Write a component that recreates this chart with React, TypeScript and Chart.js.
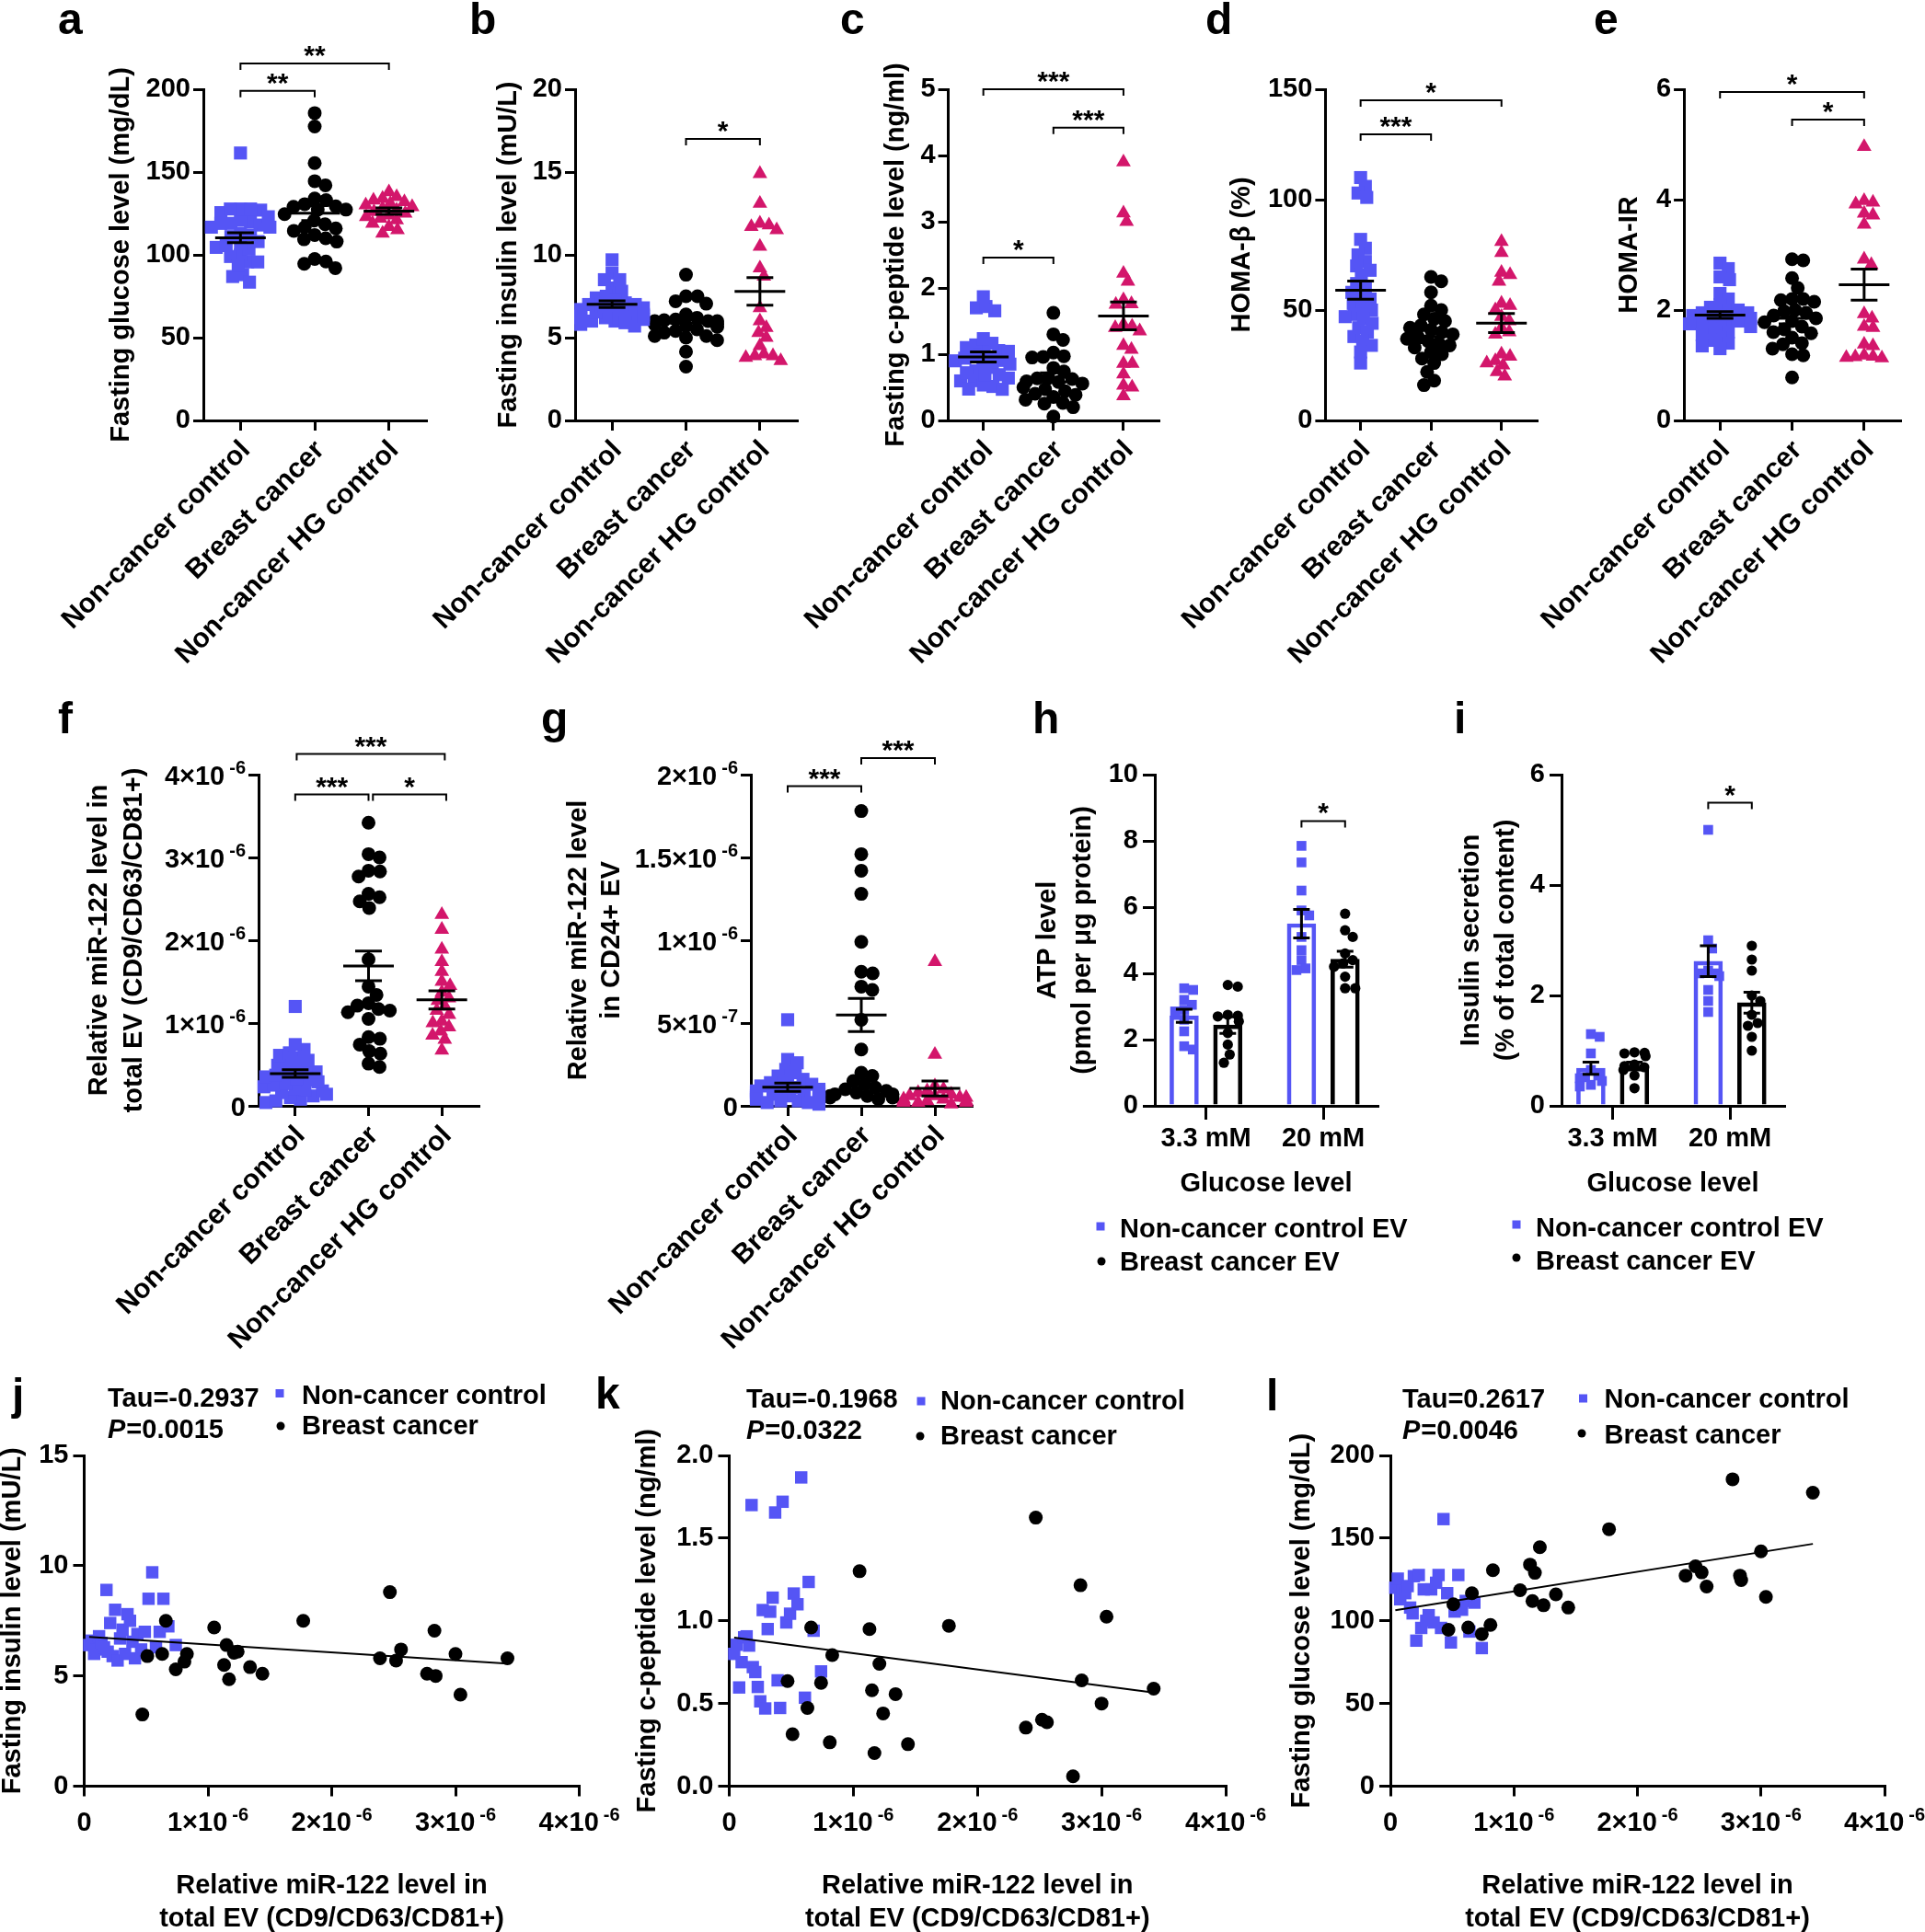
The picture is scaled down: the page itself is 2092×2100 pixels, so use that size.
import React, { useEffect, useRef } from 'react';
import { Chart, registerables } from 'chart.js';

Chart.register(...registerables);

const FONT = '"Liberation Sans", Arial, Helvetica, sans-serif';
const BLUE = '#5555F5';
const PINK = '#D3166B';
const BLACK = '#000000';
const FS = 29;
const CAT_FS = 30;

// ======================= DATA =======================
const groupNames = ['Non-cancer control', 'Breast cancer', 'Non-cancer HG control'];
const glucoseLevels = ['3.3 mM', '20 mM'];

// relative miR-122 level in total EV (CD9/CD63/CD81+), units of 1e-6
const ncTotalEV = [0.04, 0.06, 0.08, 0.10, 0.12, 0.14, 0.16, 0.18, 0.19, 0.21, 0.23, 0.25, 0.27, 0.29, 0.31, 0.33, 0.35, 0.37, 0.39, 0.41, 0.43, 0.46, 0.49, 0.52, 0.55, 0.58, 0.61, 0.64, 0.68, 0.74, 1.20];
const bcTotalEV = [0.47, 0.51, 0.63, 0.66, 0.74, 0.81, 0.83, 1.05, 1.13, 1.15, 1.17, 1.21, 1.24, 1.34, 1.44, 1.77, 2.39, 2.47, 2.52, 2.56, 2.77, 2.83, 2.84, 3.00, 3.04, 3.42];
const hgTotalEV = [2.31, 2.13, 1.89, 1.74, 1.62, 1.50, 1.45, 1.37, 1.30, 1.27, 1.20, 1.15, 1.10, 1.02, 1.00, 0.95, 0.90, 0.85, 0.80, 0.67];

// relative miR-122 level in CD24+ EV, units of 1e-6
const ncCD24EV = [0.52, 0.28, 0.26, 0.22, 0.20, 0.18, 0.16, 0.15, 0.14, 0.13, 0.12, 0.11, 0.10, 0.10, 0.09, 0.09, 0.08, 0.08, 0.07, 0.07, 0.06, 0.06, 0.05, 0.05, 0.04, 0.04, 0.03, 0.03, 0.02, 0.02, 0.01];
const bcCD24EV = [1.78, 1.52, 1.42, 1.28, 0.99, 0.81, 0.80, 0.72, 0.70, 0.52, 0.34, 0.20, 0.18, 0.15, 0.13, 0.11, 0.10, 0.09, 0.08, 0.07, 0.07, 0.06, 0.06, 0.05, 0.05, 0.04];
const hgCD24EV = [0.87, 0.31, 0.12, 0.10, 0.09, 0.08, 0.07, 0.06, 0.06, 0.05, 0.05, 0.04, 0.04, 0.03, 0.03, 0.03, 0.02, 0.02, 0.02, 0.01];

// fasting glucose (mg/dL)
const ncGlucose = [120, 125.5, 113, 118, 116.7, 121, 108, 104.5, 127, 88, 127.7, 95.7, 119, 100, 103.4, 119, 99, 123, 127.7, 95.7, 161.5, 116.7, 86.9, 105.6, 127.7, 106.7, 112, 93.5, 111, 83.5];
const bcGlucose = [94.6, 110, 96, 116.7, 92, 97.5, 130.6, 118.5, 134, 112, 129, 144.5, 109.4, 116, 108, 155.4, 127.3, 133, 129.3, 120.7, 185.6, 127.3, 124.6, 142, 114.5, 177.5];
const hgGlucose = [138, 135, 134, 133, 132, 131, 130, 129, 128, 127, 126, 125, 124, 123, 122, 121, 119, 117, 115, 113];

// fasting insulin (mU/L)
const ncInsulin = [6.4, 6.6, 6.0, 6.2, 6.8, 6.5, 6.3, 8.9, 6.1, 7.4, 5.9, 8.0, 5.7, 6.7, 7.1, 6.0, 7.8, 7.5, 6.55, 5.8, 6.9, 6.2, 7.0, 8.5, 9.7, 6.3, 7.0, 8.5, 7.25, 6.4];
const bcInsulin = [3.25, 5.9, 6.0, 7.5, 5.3, 5.65, 6.0, 7.2, 5.5, 6.4, 4.85, 6.05, 6.1, 5.4, 5.1, 7.5, 5.8, 8.8, 5.7, 6.2, 5.1, 7.05, 5.0, 6.0, 4.15, 5.8];
const hgInsulin = [14.9, 13.1, 11.9, 11.8, 11.7, 11.5, 10.5, 9.2, 8.7, 6.8, 6.0, 5.6, 5.3, 5.0, 4.5, 4.0, 3.9, 3.9, 3.8, 3.6];

// fasting c-peptide (ng/ml)
const ncCpeptide = [0.80, 0.855, 0.597, 0.75, 0.90, 0.906, 0.85, 1.70, 0.72, 0.69, 0.60, 0.513, 1.065, 0.47, 0.95, 1.055, 1.14, 1.655, 0.64, 0.473, 1.72, 0.99, 1.043, 1.165, 1.10, 1.867, 0.535, 1.235, 0.94, 0.694];
const bcCpeptide = [0.636, 0.314, 0.473, 0.96, 0.625, 0.265, 0.793, 1.30, 0.95, 0.58, 0.20, 0.74, 0.44, 0.557, 0.254, 0.97, 0.354, 1.624, 0.402, 0.387, 0.06, 1.215, 0.64, 0.50, 1.025, 0.59];
const hgCpeptide = [3.9, 3.13, 3.0, 2.22, 2.1, 1.82, 1.76, 1.75, 1.45, 1.42, 1.40, 1.35, 1.13, 1.07, 0.86, 0.86, 0.7, 0.53, 0.50, 0.37];

// HOMA-beta (%)
const ncHomaB = [110, 106, 103, 101, 82, 78, 75, 72, 70, 68, 66, 62, 60, 58, 56, 55, 53, 51, 50, 48, 47, 46, 44, 42, 40, 38, 36, 34, 31, 26];
const bcHomaB = [65, 63, 58, 52, 50, 48, 46, 45, 43, 42, 41, 40, 39, 38, 37, 36, 35, 34, 33, 31, 30, 28, 26, 22, 18, 16];
const hgHomaB = [81, 76, 67, 66, 63, 53, 52, 50, 47, 45, 42, 40, 39, 30, 29, 27, 26, 25, 22, 20];

// HOMA-IR
const ncHomaIR = [2.85, 2.75, 2.6, 2.55, 2.3, 2.2, 2.1, 2.05, 2.0, 2.0, 1.95, 1.95, 1.9, 1.9, 1.85, 1.85, 1.8, 1.8, 1.75, 1.75, 1.7, 1.7, 1.65, 1.6, 1.55, 1.5, 1.45, 1.4, 1.35, 1.3];
const bcHomaIR = [2.92, 2.9, 2.58, 2.4, 2.2, 2.2, 2.18, 2.15, 2.0, 1.98, 1.95, 1.9, 1.85, 1.8, 1.78, 1.7, 1.65, 1.6, 1.58, 1.5, 1.4, 1.38, 1.3, 1.2, 1.18, 0.78];
const hgHomaIR = [4.96, 3.98, 3.95, 3.92, 3.75, 3.72, 3.55, 2.92, 2.82, 1.93, 1.85, 1.70, 1.68, 1.38, 1.35, 1.18, 1.16, 1.15, 1.14, 1.13];

// mean and SEM, order: NC, BC, HG
const meanGlucose = [110.3, 125.2, 126.4];
const semGlucose = [3.0, 4.5, 2.0];
const meanInsulin = [7.02, 5.87, 7.79];
const semInsulin = [0.2, 0.22, 0.83];
const meanCpeptide = [0.958, 0.65, 1.577];
const semCpeptide = [0.077, 0.07, 0.21];
const meanHomaB = [59, 38, 44.1];
const semHomaB = [4.1, 2.8, 4.3];
const meanHomaIR = [1.91, 1.85, 2.46];
const semHomaIR = [0.06, 0.1, 0.28];
const meanTotalEV = [0.39, 1.69, 1.28];
const semTotalEV = [0.045, 0.18, 0.11];
const meanCD24EV = [0.112, 0.548, 0.105];
const semCD24EV = [0.025, 0.10, 0.045];

// ATP level (pmol per ug protein), 3.3 mM / 20 mM
const atpCtrlLow = [3.55, 3.5, 3.2, 3.05, 2.9, 2.85, 2.6, 2.25, 1.8, 1.7];
const atpCtrlHigh = [7.85, 7.35, 6.5, 5.9, 5.75, 5.1, 4.7, 4.4, 4.15, 4.1];
const atpBcLow = [3.65, 3.6, 2.75, 2.72, 2.7, 2.55, 2.2, 1.85, 1.55, 1.3];
const atpBcHigh = [5.8, 5.3, 5.1, 4.6, 4.4, 4.3, 4.2, 3.9, 3.55, 3.55];
const atpCtrlMean = [2.72, 5.5];
const atpCtrlSem = [0.2, 0.43];
const atpBcMean = [2.44, 4.43];
const atpBcSem = [0.25, 0.24];

// insulin secretion (% of total content)
const secCtrlLow = [1.3, 1.25, 0.95, 0.65, 0.55, 0.52, 0.5, 0.45, 0.38, 0.35];
const secCtrlHigh = [5.0, 3.0, 2.85, 2.45, 2.4, 2.4, 2.35, 2.1, 1.9, 1.7];
const secBcLow = [0.97, 0.96, 0.95, 0.9, 0.75, 0.72, 0.7, 0.65, 0.55, 0.32];
const secBcHigh = [2.9, 2.65, 2.45, 2.0, 1.9, 1.65, 1.5, 1.45, 1.25, 1.0];
const secCtrlMean = [0.68, 2.62];
const secCtrlSem = [0.11, 0.28];
const secBcMean = [0.72, 1.87];
const secBcSem = [0.07, 0.19];

// linear fits [intercept, slope per 1e-6]
const fitInsulin = [6.78, -0.356];
const fitCpeptide = [0.903, -0.0986];
const fitGlucose = [105.9, 11.88];

// ======================= HELPERS =======================
const fnt = (size: number, lineHeight = 1.2) => ({ family: FONT, size, weight: 'bold' as const, lineHeight });

function axisLook(tickLength: number) {
  return {
    border: { display: true, color: '#000', width: 3 },
    grid: { display: true, drawOnChartArea: false, drawTicks: true, tickLength, tickWidth: 3, tickColor: '#000', color: '#000', lineWidth: 3, offset: false },
  };
}

function swarm(values: number[], pxPerY: number, d: number, maxOff: number): number[] {
  const order = values.map((_, i) => i).sort((a, b) => values[b] - values[a]);
  const placed: { x: number; y: number }[] = [];
  const out: number[] = new Array(values.length).fill(0);
  for (const i of order) {
    const y = values[i] * pxPerY;
    const near = placed.filter((p) => Math.abs(p.y - y) < d);
    const cands = [0];
    for (const p of near) {
      const dx = Math.sqrt(d * d - (p.y - y) * (p.y - y));
      cands.push(p.x + dx, p.x - dx);
    }
    cands.sort((a, b) => Math.abs(a) - Math.abs(b));
    let best = 0;
    for (const c of cands) {
      if (near.every((p) => (p.x - c) ** 2 + (p.y - y) ** 2 >= d * d - 1e-6)) { best = c; break; }
    }
    best = Math.max(-maxOff, Math.min(maxOff, best));
    placed.push({ x: best, y });
    out[i] = best;
  }
  return out;
}

function setFont(ctx: CanvasRenderingContext2D, size: number, italic = false) {
  ctx.font = `${italic ? 'italic ' : ''}bold ${size}px ${FONT}`;
}

function text(ctx: CanvasRenderingContext2D, s: string, x: number, y: number, size = FS, align: CanvasTextAlign = 'left', italic = false) {
  ctx.save();
  setFont(ctx, size, italic);
  ctx.fillStyle = '#000';
  ctx.textAlign = align;
  ctx.textBaseline = 'alphabetic';
  ctx.fillText(s, x, y);
  ctx.restore();
}

function sciParts(v: number, unitExp: number): [string, string] {
  const e = Math.floor(Math.log10(v) + 1e-9);
  const m = v / Math.pow(10, e);
  return [`${+m.toFixed(2)}\u00D710`, `${e + unitExp}`];
}

function drawSciY(ctx: CanvasRenderingContext2D, ys: any, xRight: number) {
  for (const t of ys.ticks) {
    const v = t.value;
    const y = ys.getPixelForValue(v);
    const base = y + 11;
    if (v === 0) { text(ctx, '0', xRight, base, FS, 'right'); continue; }
    const [m, e] = sciParts(v, -6);
    setFont(ctx, 20);
    const wS = ctx.measureText(e).width;
    text(ctx, e, xRight - wS, base - 12, 20);
    text(ctx, m, xRight - wS - 5, base, FS, 'right');
  }
}

function drawSciX(ctx: CanvasRenderingContext2D, xs: any, base: number) {
  for (const t of xs.ticks) {
    const v = t.value;
    const x = xs.getPixelForValue(v);
    if (v === 0) { text(ctx, '0', x, base, FS, 'center'); continue; }
    const [m, e] = sciParts(v, -6);
    setFont(ctx, FS);
    const wM = ctx.measureText(m).width;
    setFont(ctx, 20);
    const wS = ctx.measureText(e).width;
    const start = x - (wM + 5 + wS) / 2;
    text(ctx, m, start, base, FS);
    text(ctx, e, start + wM + 5, base - 11, 20);
  }
}

function drawBrackets(ctx: CanvasRenderingContext2D, xs: any, ys: any, brackets: any[]) {
  for (const br of brackets) {
    const xa = xs.getPixelForValue(br.a);
    const xb = xs.getPixelForValue(br.b);
    const y = ys.getPixelForValue(br.y);
    ctx.save();
    ctx.strokeStyle = '#000';
    ctx.lineWidth = 2;
    ctx.beginPath();
    ctx.moveTo(xa, y + 7); ctx.lineTo(xa, y); ctx.lineTo(xb, y); ctx.lineTo(xb, y + 7);
    ctx.stroke();
    ctx.restore();
    text(ctx, br.t, (xa + xb) / 2, y + 1, 30, 'center');
  }
}

function drawErr(ctx: CanvasRenderingContext2D, ys: any, cx: number, m: number, s: number, half: number, cap: number) {
  const ym = ys.getPixelForValue(m);
  const yt = ys.getPixelForValue(m + s);
  const yb = ys.getPixelForValue(m - s);
  ctx.save();
  ctx.strokeStyle = '#000';
  ctx.lineWidth = 3;
  ctx.beginPath();
  if (half > 0) { ctx.moveTo(cx - half, ym); ctx.lineTo(cx + half, ym); }
  ctx.moveTo(cx, yt); ctx.lineTo(cx, yb);
  ctx.moveTo(cx - cap, yt); ctx.lineTo(cx + cap, yt);
  ctx.moveTo(cx - cap, yb); ctx.lineTo(cx + cap, yb);
  ctx.stroke();
  ctx.restore();
}

function drawNotes(ctx: CanvasRenderingContext2D, notes: any[], box: any) {
  for (const n of notes) {
    const x = n.x - box.L;
    const y = n.y - box.T;
    if (n.k === 'text') text(ctx, n.s, x, y, n.size || FS);
    else if (n.k === 'pval') {
      setFont(ctx, FS, true);
      const w = ctx.measureText('P').width;
      text(ctx, 'P', x, y, FS, 'left', true);
      text(ctx, n.s, x + w + 1, y, FS);
    } else if (n.k === 'square') {
      ctx.fillStyle = n.color;
      ctx.fillRect(x - n.size / 2, y - n.size / 2, n.size, n.size);
    } else if (n.k === 'dot') {
      ctx.fillStyle = n.color;
      ctx.beginPath();
      ctx.arc(x, y, n.r, 0, Math.PI * 2);
      ctx.fill();
    }
  }
}

function layoutOpts(box: any, area: any) {
  return {
    autoPadding: false,
    padding: { left: 0, top: area.y0 - box.T, right: box.L + box.W - area.x1, bottom: 0 },
  };
}

const GROUP_STYLE = [
  { style: 'rect', r: 10, color: BLUE, d: 11 },
  { style: 'circle', r: 7.5, color: BLACK, d: 12.5 },
  { style: 'triangle', r: 9.2, color: PINK, d: 10 },
];

// ======================= CONFIG BUILDERS =======================
function dotConfig(p: any) {
  const { box, area } = p;
  const pxY = (area.y1 - area.y0) / (p.yMax - p.yMin);
  const pxX = (area.x1 - area.x0) / 3;
  const datasets = p.groups.map((vals: number[], g: number) => {
    const st = GROUP_STYLE[g];
    const offs = swarm(vals, pxY, st.d, 34);
    return {
      type: 'scatter',
      data: vals.map((v, i) => ({ x: g + offs[i] / pxX, y: v })),
      pointStyle: st.style,
      pointRadius: st.r,
      pointHoverRadius: st.r,
      backgroundColor: st.color,
      borderColor: st.color,
      borderWidth: 0,
      clip: false,
    };
  });
  const lh = p.titleLH;
  return {
    type: 'scatter',
    data: { datasets },
    options: {
      animation: false, responsive: false, maintainAspectRatio: false, events: [],
      layout: layoutOpts(box, area),
      plugins: { legend: { display: false }, tooltip: { enabled: false } },
      scales: {
        x: {
          type: 'linear', min: -0.5, max: 2.5, offset: false,
          afterBuildTicks: (s: any) => { s.ticks = [0, 1, 2].map((v) => ({ value: v })); },
          afterFit: (s: any) => { s.height = box.T + box.H - area.y1; },
          ticks: { autoSkip: false, minRotation: 45, maxRotation: 45, padding: 4, labelOffset: 6, font: fnt(CAT_FS), color: '#000', callback: (v: number) => groupNames[v] ?? '' },
          ...axisLook(11),
        },
        y: {
          type: 'linear', min: p.yMin, max: p.yMax,
          afterFit: (s: any) => { s.width = area.x0 - box.L; },
          ticks: { stepSize: p.yStep, padding: 3, font: fnt(FS), color: '#000', callback: p.sci ? () => '' : (v: number) => `${v}` },
          title: { display: true, text: p.yTitle, color: '#000', font: fnt(FS, lh / FS), padding: { top: p.titleX - box.L - lh / 2, bottom: 0 } },
          ...axisLook(11),
        },
      },
    },
    plugins: [{
      id: 'extras',
      afterDraw(chart: any) {
        const ctx = chart.ctx;
        const xs = chart.scales.x, ys = chart.scales.y;
        p.means.forEach((m: number, g: number) => drawErr(ctx, ys, xs.getPixelForValue(g), m, p.sems[g], 27.5, 14.5));
        drawBrackets(ctx, xs, ys, p.brackets);
        if (p.sci) drawSciY(ctx, ys, chart.chartArea.left - 14);
        drawNotes(ctx, p.notes, box);
      },
    }],
  };
}

function barConfig(p: any) {
  const { box, area } = p;
  const xMin = -0.436, xMax = 1.462;
  const pxY = (area.y1 - area.y0) / p.yMax;
  const pxX = (area.x1 - area.x0) / (xMax - xMin);
  const off = 23.7 / pxX;
  const barSet = (means: number[], sign: number, color: string) => ({
    type: 'bar',
    data: means.map((m, k) => ({ x: k + sign * off, y: m })),
    backgroundColor: 'rgba(255,255,255,0)',
    borderColor: color,
    borderWidth: 4,
    borderSkipped: 'start',
    barThickness: 31,
    grouped: false,
    order: 10,
  });
  const ptSet = (vals: number[], center: number, style: string, r: number, d: number, color: string) => {
    const offs = swarm(vals, pxY, d, 12);
    return {
      type: 'scatter',
      data: vals.map((v, i) => ({ x: center + offs[i] / pxX, y: v })),
      pointStyle: style, pointRadius: r, pointHoverRadius: r,
      backgroundColor: color, borderColor: color, borderWidth: 0, clip: false, order: 1,
    };
  };
  const lh = 38;
  return {
    type: 'scatter',
    data: {
      datasets: [
        barSet(p.ctrlMean, -1, BLUE),
        barSet(p.bcMean, 1, BLACK),
        ptSet(p.ctrl[0], 0 - off, 'rect', 7.5, 10, BLUE),
        ptSet(p.ctrl[1], 1 - off, 'rect', 7.5, 10, BLUE),
        ptSet(p.bc[0], 0 + off, 'circle', 5.6, 11, BLACK),
        ptSet(p.bc[1], 1 + off, 'circle', 5.6, 11, BLACK),
      ],
    },
    options: {
      animation: false, responsive: false, maintainAspectRatio: false, events: [],
      layout: layoutOpts(box, area),
      plugins: { legend: { display: false }, tooltip: { enabled: false } },
      scales: {
        x: {
          type: 'linear', min: xMin, max: xMax, offset: false,
          afterBuildTicks: (s: any) => { s.ticks = [0, 1].map((v) => ({ value: v })); },
          afterFit: (s: any) => { s.height = box.T + box.H - area.y1; },
          ticks: { autoSkip: false, maxRotation: 0, padding: 4, font: fnt(FS), color: '#000', callback: (v: number) => glucoseLevels[v] ?? '' },
          title: { display: true, text: 'Glucose level', color: '#000', font: fnt(FS, 34 / FS), padding: { top: 0, bottom: box.T + box.H - p.xTitleY - 17 } },
          ...axisLook(15),
        },
        y: {
          type: 'linear', min: 0, max: p.yMax,
          afterFit: (s: any) => { s.width = area.x0 - box.L; },
          ticks: { stepSize: p.yStep, padding: 5, font: fnt(FS), color: '#000' },
          title: { display: true, text: p.yTitle, color: '#000', font: fnt(FS, lh / FS), padding: { top: p.titleX - box.L - lh / 2, bottom: 0 } },
          ...axisLook(13),
        },
      },
    },
    plugins: [{
      id: 'extras',
      afterDraw(chart: any) {
        const ctx = chart.ctx;
        const xs = chart.scales.x, ys = chart.scales.y;
        [0, 1].forEach((k) => {
          drawErr(ctx, ys, xs.getPixelForValue(k - off), p.ctrlMean[k], p.ctrlSem[k], 0, 9);
          drawErr(ctx, ys, xs.getPixelForValue(k + off), p.bcMean[k], p.bcSem[k], 0, 9);
        });
        drawBrackets(ctx, xs, ys, [{ a: 1 - off, b: 1 + off, y: p.bracketY, t: '*' }]);
        drawNotes(ctx, p.notes, box);
      },
    }],
  };
}

function scatterConfig(p: any) {
  const { box, area } = p;
  const ncPts = p.yNc.map((y: number, i: number) => ({ x: ncTotalEV[i], y }));
  const bcPts = p.yBc.map((y: number, i: number) => ({ x: bcTotalEV[i], y }));
  const allX = [...ncPts, ...bcPts].map((q: any) => q.x);
  const xa = Math.min(...allX), xb = Math.max(...allX);
  const [b0, b1] = p.fit;
  const lh = 36;
  return {
    type: 'scatter',
    data: {
      datasets: [
        { type: 'scatter', data: [{ x: xa, y: b0 + b1 * xa }, { x: xb, y: b0 + b1 * xb }], showLine: true, pointRadius: 0, borderColor: '#000', borderWidth: 2, order: 0, clip: false },
        { type: 'scatter', data: bcPts, pointStyle: 'circle', pointRadius: 7.5, backgroundColor: BLACK, borderWidth: 0, order: 1, clip: false },
        { type: 'scatter', data: ncPts, pointStyle: 'rect', pointRadius: 9.5, backgroundColor: BLUE, borderWidth: 0, order: 2, clip: false },
      ],
    },
    options: {
      animation: false, responsive: false, maintainAspectRatio: false, events: [],
      layout: layoutOpts(box, area),
      plugins: { legend: { display: false }, tooltip: { enabled: false } },
      scales: {
        x: {
          type: 'linear', min: 0, max: 4, offset: false,
          afterFit: (s: any) => { s.height = box.T + box.H - area.y1; },
          ticks: { stepSize: 1, font: fnt(FS), color: '#000', callback: () => '' },
          title: { display: true, text: ['Relative miR-122 level in', 'total EV (CD9/CD63/CD81+)'], color: '#000', font: fnt(FS, lh / FS), padding: { top: 0, bottom: box.T + box.H - 2086 - lh / 2 } },
          ...axisLook(11),
        },
        y: {
          type: 'linear', min: 0, max: p.yMax,
          afterFit: (s: any) => { s.width = area.x0 - box.L; },
          ticks: { stepSize: p.yStep, padding: 5, font: fnt(FS), color: '#000', callback: p.yFmt },
          title: { display: true, text: p.yTitle, color: '#000', font: fnt(FS, 1), padding: { top: p.titleX - box.L - FS / 2, bottom: 0 } },
          ...axisLook(12),
        },
      },
    },
    plugins: [{
      id: 'extras',
      afterDraw(chart: any) {
        const ctx = chart.ctx;
        drawSciX(ctx, chart.scales.x, chart.chartArea.bottom + 48);
        drawNotes(ctx, p.notes, box);
      },
    }],
  };
}

// ======================= PANELS =======================
const T_ROW = { T: 0, H: 745, y0: 97, y1: 457 };
const M_ROW = { T: 740, y0: 842, y1: 1202 };
const B_ROW = { T: 1480, H: 620, y0: 1582, y1: 1941.5 };

const letter = (s: string, x: number, y: number) => ({ k: 'text', s, x, y, size: 48 });

const panels: any[] = [
  {
    kind: 'dot', box: { L: 0, T: T_ROW.T, W: 500, H: T_ROW.H }, area: { x0: 221, y0: T_ROW.y0, x1: 463, y1: T_ROW.y1 },
    groups: [ncGlucose, bcGlucose, hgGlucose], means: meanGlucose, sems: semGlucose,
    yMin: 0, yMax: 200, yStep: 50, yTitle: 'Fasting glucose level (mg/dL)', titleX: 131.5, titleLH: FS,
    brackets: [{ a: 0, b: 1, y: 199, t: '**' }, { a: 0, b: 2, y: 215.6, t: '**' }],
    notes: [letter('a', 63, 37)],
  },
  {
    kind: 'dot', box: { L: 420, T: T_ROW.T, W: 480, H: T_ROW.H }, area: { x0: 625, y0: T_ROW.y0, x1: 866, y1: T_ROW.y1 },
    groups: [ncInsulin, bcInsulin, hgInsulin], means: meanInsulin, sems: semInsulin,
    yMin: 0, yMax: 20, yStep: 5, yTitle: 'Fasting insulin level (mU/L)', titleX: 552.5, titleLH: FS,
    brackets: [{ a: 1, b: 2, y: 17, t: '*' }],
    notes: [letter('b', 510, 37)],
  },
  {
    kind: 'dot', box: { L: 840, T: T_ROW.T, W: 440, H: T_ROW.H }, area: { x0: 1021, y0: T_ROW.y0, x1: 1259, y1: T_ROW.y1 },
    groups: [ncCpeptide, bcCpeptide, hgCpeptide], means: meanCpeptide, sems: semCpeptide,
    yMin: 0, yMax: 5, yStep: 1, yTitle: 'Fasting c-peptide level (ng/ml)', titleX: 964, titleLH: FS,
    brackets: [{ a: 0, b: 2, y: 5.0, t: '***' }, { a: 1, b: 2, y: 4.42, t: '***' }, { a: 0, b: 1, y: 2.46, t: '*' }],
    notes: [letter('c', 913, 37)],
  },
  {
    kind: 'dot', box: { L: 1250, T: T_ROW.T, W: 450, H: T_ROW.H }, area: { x0: 1431, y0: T_ROW.y0, x1: 1670, y1: T_ROW.y1 },
    groups: [ncHomaB, bcHomaB, hgHomaB], means: meanHomaB, sems: semHomaB,
    yMin: 0, yMax: 150, yStep: 50, yTitle: 'HOMA-\u03B2 (%)', titleX: 1341, titleLH: FS,
    brackets: [{ a: 0, b: 1, y: 129.6, t: '***' }, { a: 0, b: 2, y: 145, t: '*' }],
    notes: [letter('d', 1310, 37)],
  },
  {
    kind: 'dot', box: { L: 1640, T: T_ROW.T, W: 452, H: T_ROW.H }, area: { x0: 1824.5, y0: T_ROW.y0, x1: 2065, y1: T_ROW.y1 },
    groups: [ncHomaIR, bcHomaIR, hgHomaIR], means: meanHomaIR, sems: semHomaIR,
    yMin: 0, yMax: 6, yStep: 2, yTitle: 'HOMA-IR', titleX: 1765, titleLH: FS,
    brackets: [{ a: 0, b: 2, y: 5.95, t: '*' }, { a: 1, b: 2, y: 5.45, t: '*' }],
    notes: [letter('e', 1732, 37)],
  },
  {
    kind: 'dot', box: { L: 0, T: M_ROW.T, W: 560, H: 740 }, area: { x0: 281, y0: M_ROW.y0, x1: 520, y1: M_ROW.y1 },
    groups: [ncTotalEV, bcTotalEV, hgTotalEV], means: meanTotalEV, sems: semTotalEV, sci: true,
    yMin: 0, yMax: 4, yStep: 1, yTitle: ['Relative miR-122 level in', 'total EV (CD9/CD63/CD81+)'], titleX: 108, titleLH: 38,
    brackets: [{ a: 0.02, b: 2.04, y: 4.25, t: '***' }, { a: 0, b: 1, y: 3.76, t: '***' }, { a: 1.06, b: 2.06, y: 3.76, t: '*' }],
    notes: [letter('f', 63, 797)],
  },
  {
    kind: 'dot', box: { L: 560, T: M_ROW.T, W: 520, H: 740 }, area: { x0: 816, y0: M_ROW.y0, x1: 1056, y1: M_ROW.y1 },
    groups: [ncCD24EV, bcCD24EV, hgCD24EV], means: meanCD24EV, sems: semCD24EV, sci: true,
    yMin: 0, yMax: 2, yStep: 0.5, yTitle: ['Relative miR-122 level', 'in CD24+ EV'], titleX: 629, titleLH: 36,
    brackets: [{ a: 0, b: 1, y: 1.93, t: '***' }, { a: 1, b: 2, y: 2.1, t: '***' }],
    notes: [letter('g', 588, 797)],
  },
  {
    kind: 'bar', box: { L: 1100, T: M_ROW.T, W: 450, H: 660 }, area: { x0: 1255, y0: M_ROW.y0, x1: 1497, y1: M_ROW.y1 },
    ctrl: [atpCtrlLow, atpCtrlHigh], bc: [atpBcLow, atpBcHigh],
    ctrlMean: atpCtrlMean, ctrlSem: atpCtrlSem, bcMean: atpBcMean, bcSem: atpBcSem,
    yMax: 10, yStep: 2, yTitle: ['ATP level', '(pmol per \u03BCg protein)'], titleX: 1139, xTitleY: 1287, bracketY: 8.6,
    notes: [
      letter('h', 1122, 797),
      { k: 'square', x: 1196, y: 1333, size: 9, color: BLUE },
      { k: 'text', s: 'Non-cancer control EV', x: 1217, y: 1345 },
      { k: 'dot', x: 1197, y: 1371, r: 4.5, color: BLACK },
      { k: 'text', s: 'Breast cancer EV', x: 1217, y: 1381 },
    ],
  },
  {
    kind: 'bar', box: { L: 1560, T: M_ROW.T, W: 532, H: 660 }, area: { x0: 1697, y0: M_ROW.y0, x1: 1939, y1: M_ROW.y1 },
    ctrl: [secCtrlLow, secCtrlHigh], bc: [secBcLow, secBcHigh],
    ctrlMean: secCtrlMean, ctrlSem: secCtrlSem, bcMean: secBcMean, bcSem: secBcSem,
    yMax: 6, yStep: 2, yTitle: ['Insulin secretion', '(% of total content)'], titleX: 1599, xTitleY: 1287, bracketY: 5.49,
    notes: [
      letter('i', 1580, 797),
      { k: 'square', x: 1648, y: 1331, size: 9, color: BLUE },
      { k: 'text', s: 'Non-cancer control EV', x: 1669, y: 1344 },
      { k: 'dot', x: 1648, y: 1367, r: 4.5, color: BLACK },
      { k: 'text', s: 'Breast cancer EV', x: 1669, y: 1380 },
    ],
  },
  {
    kind: 'scatter', box: { L: 0, T: B_ROW.T, W: 680, H: B_ROW.H }, area: { x0: 91.5, y0: B_ROW.y0, x1: 629.5, y1: B_ROW.y1 },
    yNc: ncInsulin, yBc: bcInsulin, fit: fitInsulin,
    yMax: 15, yStep: 5, yTitle: 'Fasting insulin level (mU/L)', titleX: 13.5, yFmt: (v: number) => `${v}`,
    notes: [
      letter('j', 13, 1532),
      { k: 'text', s: 'Tau=-0.2937', x: 117, y: 1529 },
      { k: 'pval', s: '=0.0015', x: 117, y: 1563 },
      { k: 'square', x: 304, y: 1514.5, size: 9, color: BLUE },
      { k: 'text', s: 'Non-cancer control', x: 328, y: 1525.5 },
      { k: 'dot', x: 305, y: 1550, r: 4.5, color: BLACK },
      { k: 'text', s: 'Breast cancer', x: 328, y: 1559 },
    ],
  },
  {
    kind: 'scatter', box: { L: 640, T: B_ROW.T, W: 760, H: B_ROW.H }, area: { x0: 792.5, y0: B_ROW.y0, x1: 1332, y1: B_ROW.y1 },
    yNc: ncCpeptide, yBc: bcCpeptide, fit: fitCpeptide,
    yMax: 2, yStep: 0.5, yTitle: 'Fasting c-peptide level (ng/ml)', titleX: 704, yFmt: (v: number) => v.toFixed(1),
    notes: [
      letter('k', 647, 1531),
      { k: 'text', s: 'Tau=-0.1968', x: 811, y: 1530 },
      { k: 'pval', s: '=0.0322', x: 811, y: 1564 },
      { k: 'square', x: 1001, y: 1523, size: 9, color: BLUE },
      { k: 'text', s: 'Non-cancer control', x: 1022, y: 1532 },
      { k: 'dot', x: 1000, y: 1561, r: 4.5, color: BLACK },
      { k: 'text', s: 'Breast cancer', x: 1022, y: 1570 },
    ],
  },
  {
    kind: 'scatter', box: { L: 1360, T: B_ROW.T, W: 732, H: B_ROW.H }, area: { x0: 1511, y0: B_ROW.y0, x1: 2048, y1: B_ROW.y1 },
    yNc: ncGlucose, yBc: bcGlucose, fit: fitGlucose,
    yMax: 200, yStep: 50, yTitle: 'Fasting glucose level (mg/dL)', titleX: 1414.6, yFmt: (v: number) => `${v}`,
    notes: [
      letter('l', 1376, 1533),
      { k: 'text', s: 'Tau=0.2617', x: 1524, y: 1530 },
      { k: 'pval', s: '=0.0046', x: 1524, y: 1564 },
      { k: 'square', x: 1720.5, y: 1520, size: 9, color: BLUE },
      { k: 'text', s: 'Non-cancer control', x: 1743.6, y: 1530 },
      { k: 'dot', x: 1719, y: 1558, r: 4.5, color: BLACK },
      { k: 'text', s: 'Breast cancer', x: 1743.6, y: 1569 },
    ],
  },
];

function buildConfig(p: any) {
  if (p.kind === 'dot') return dotConfig(p);
  if (p.kind === 'bar') return barConfig(p);
  return scatterConfig(p);
}

function Panel({ spec }: { spec: any }) {
  const ref = useRef<HTMLCanvasElement>(null);
  useEffect(() => {
    if (!ref.current) return;
    const chart = new Chart(ref.current, buildConfig(spec) as any);
    return () => chart.destroy();
  }, [spec]);
  const { L, T, W, H } = spec.box;
  return (
    <canvas
      ref={ref}
      width={W}
      height={H}
      style={{ position: 'absolute', left: L, top: T, width: W, height: H }}
    />
  );
}

export default function App() {
  return (
    <div style={{ position: 'absolute', left: 0, top: 0, width: 2092, height: 2100, overflow: 'hidden', background: '#fff' }}>
      {panels.map((p, i) => (
        <Panel key={i} spec={p} />
      ))}
    </div>
  );
}
